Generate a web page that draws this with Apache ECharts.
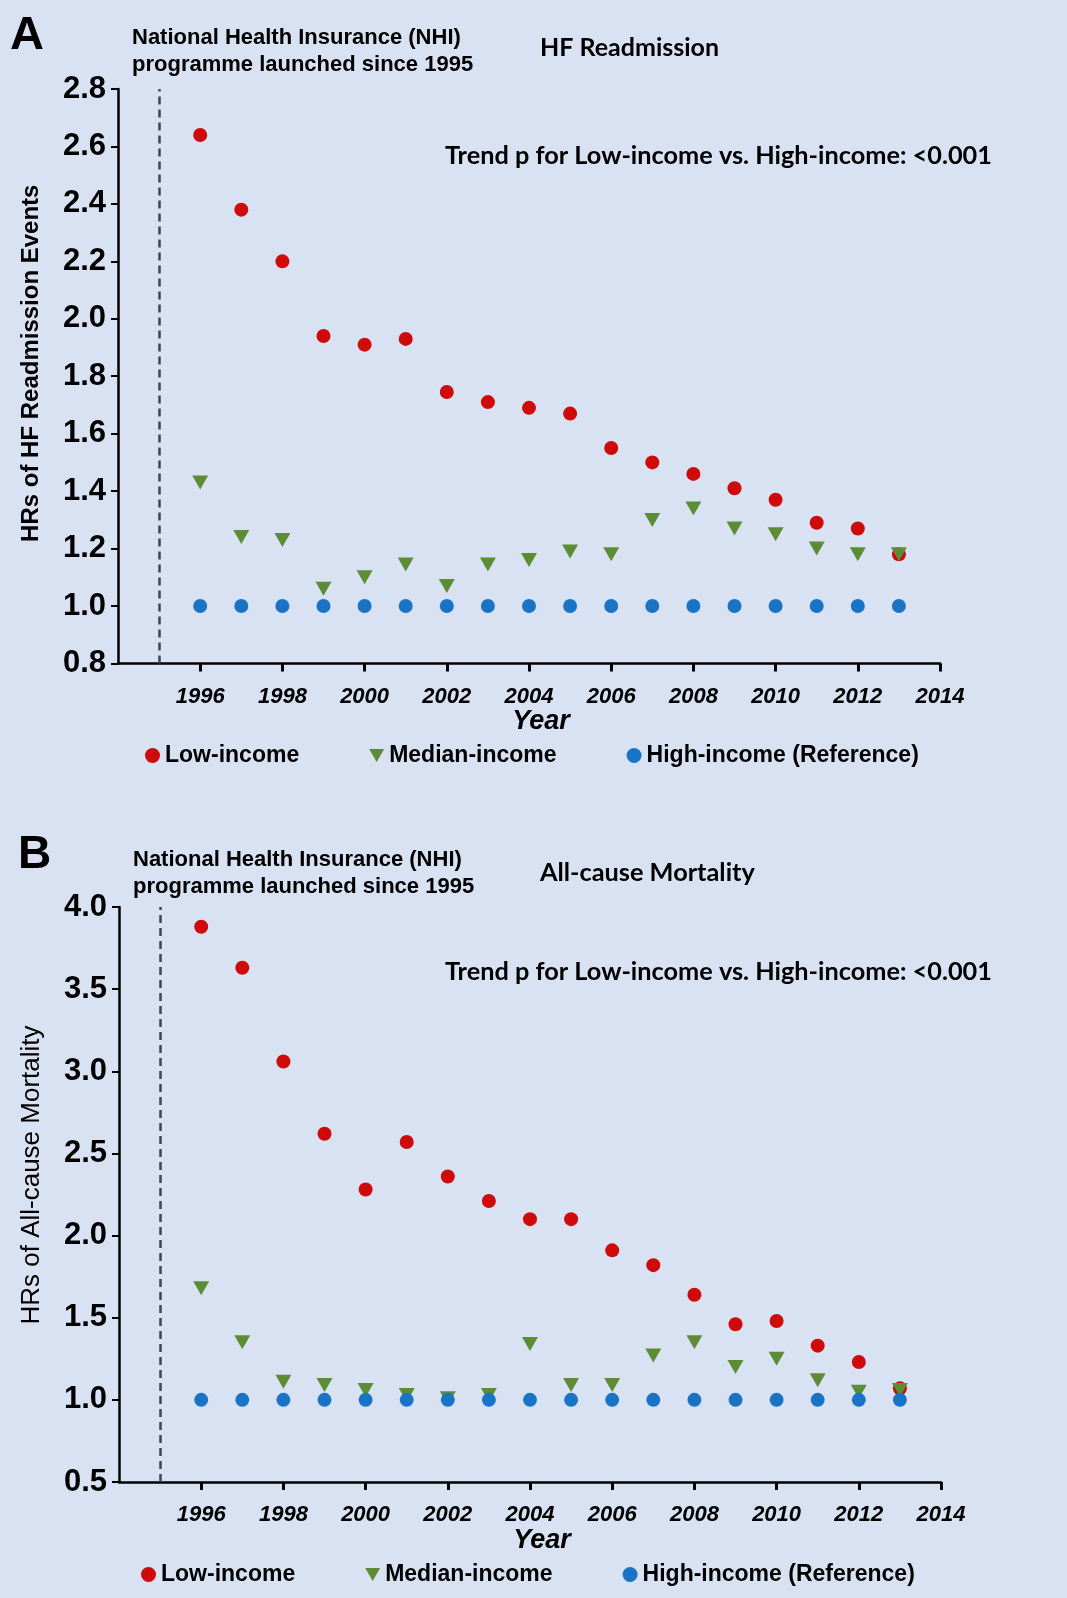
<!DOCTYPE html>
<html>
<head>
<meta charset="utf-8">
<script src="https://cdn.jsdelivr.net/npm/echarts@6/dist/echarts.min.js"></script>
<style>
html,body{margin:0;padding:0;background:#D9E2F2;}
#chart{width:1067px;height:1598px;}
</style>
</head>
<body>
<div id="chart"></div>
<script>
// ---- data ----
const years = [1996,1997,1998,1999,2000,2001,2002,2003,2004,2005,2006,2007,2008,2009,2010,2011,2012,2013];
const hfLow  = [2.64,2.38,2.20,1.94,1.91,1.93,1.745,1.71,1.69,1.67,1.55,1.50,1.46,1.41,1.37,1.29,1.27,1.18];
const hfMed  = [1.43,1.24,1.23,1.06,1.10,1.145,1.07,1.145,1.16,1.19,1.18,1.30,1.34,1.27,1.25,1.20,1.18,1.18];
const hfHigh = [1,1,1,1,1,1,1,1,1,1,1,1,1,1,1,1,1,1];
const mortLow  = [3.88,3.63,3.06,2.62,2.28,2.57,2.36,2.21,2.10,2.10,1.91,1.82,1.64,1.46,1.48,1.33,1.23,1.07];
const mortMed  = [1.68,1.35,1.11,1.09,1.06,1.03,1.01,1.03,1.34,1.09,1.09,1.27,1.35,1.20,1.25,1.12,1.05,1.06];
const mortHigh = [1,1,1,1,1,1,1,1,1,1,1,1,1,1,1,1,1,1];
const nhiYear = 1995;
const seriesNames = ['Low-income','Median-income','High-income (Reference)'];

// ---- styles ----
const FONT = 'Liberation Sans';
const RED = '#CE0A0A', GREEN = '#5C8D35', BLUE = '#1A74C6';
const TRI = 'path://M0,0L10,0L5,8.7Z';

function pairs(vals){ return years.map((y,i)=>[y, vals[i]]); }

function xAxis(gi){
  return {
    type:'value', gridIndex:gi, min:1994, max:2014, interval:2,
    name:'Year', nameLocation:'middle', nameGap:44,
    nameTextStyle:{fontFamily:FONT,fontSize:27,fontWeight:'bold',fontStyle:'italic',color:'#000',padding:[0,0,0,24]},
    axisLine:{show:true,lineStyle:{color:'#000',width:2.5}},
    axisTick:{show:true,length:8,lineStyle:{color:'#000',width:3}},
    axisLabel:{showMinLabel:false,margin:22,fontFamily:FONT,fontSize:22,fontWeight:'bold',fontStyle:'italic',color:'#000',
      formatter:v=>String(v)},
    splitLine:{show:false}
  };
}
function yAxis(gi,min,max,interval,name,weight,size,gap,pad){
  return {
    type:'value', gridIndex:gi, min:min, max:max, interval:interval,
    name:name, nameLocation:'middle', nameGap:gap, nameRotate:90,
    nameTextStyle:{fontFamily:FONT,fontSize:size,fontWeight:weight,color:'#000',padding:[0,0,0,pad]},
    axisLine:{show:true,lineStyle:{color:'#000',width:2.5}},
    axisTick:{show:true,length:7,lineStyle:{color:'#000',width:2}},
    axisLabel:{margin:12,fontFamily:FONT,fontSize:31,fontWeight:'bold',color:'#000',padding:[7,0,0,0],
      formatter:v=>v.toFixed(1)},
    splitLine:{show:false}
  };
}
function scatter(gi,name,vals,color,symbol,size,withLine){
  const s = {
    type:'scatter', name:name, xAxisIndex:gi, yAxisIndex:gi,
    data:pairs(vals), symbol:symbol, symbolSize:size,
    itemStyle:{color:color,opacity:1}, silent:true
  };
  if(withLine){
    s.markLine = {silent:true,symbol:'none',label:{show:false},
      lineStyle:{color:'#3A4757',width:2.5,type:[8,5]},
      data:[{xAxis:nhiYear}]};
  }
  return s;
}
function legend(left,top){
  return {
    left:left, top:top, itemGap:70, itemWidth:15, itemHeight:15,
    textStyle:{fontFamily:FONT,fontSize:23,fontWeight:'bold',color:'#000'},
    data:[{name:seriesNames[0],icon:'circle'},{name:seriesNames[1],icon:TRI},{name:seriesNames[2],icon:'circle'}],
    selectedMode:false
  };
}
function txt(x,y,text,size,weight,family){
  return {type:'text',x:x,y:y,style:{text:text,fontSize:size,fontWeight:weight,fontFamily:family||FONT,
    fill:'#000',textAlign:'left',textVerticalAlign:'middle'}};
}

const chart = echarts.init(document.getElementById('chart'),null,{renderer:'canvas'});
chart.setOption({
  backgroundColor:'#D9E2F2',
  animation:false,
  grid:[
    {left:118,top:89,width:822,height:574.5},
    {left:119,top:907,width:822,height:575}
  ],
  xAxis:[xAxis(0),xAxis(1)],
  yAxis:[
    yAxis(0,0.8,2.8,0.2,'HRs of HF Readmission Events','bold',24,75,26),
    yAxis(1,0.5,4.0,0.5,'HRs of All-cause Mortality','normal',26,74,39)
  ],
  legend:[legend(140,739),legend(136,1558)],
  series:[
    scatter(0,seriesNames[0],hfLow,RED,'circle',14,true),
    scatter(0,seriesNames[1],hfMed,GREEN,TRI,[16,14],false),
    scatter(0,seriesNames[2],hfHigh,BLUE,'circle',14,false),
    scatter(1,seriesNames[0],mortLow,RED,'circle',14,true),
    scatter(1,seriesNames[1],mortMed,GREEN,TRI,[16,14],false),
    scatter(1,seriesNames[2],mortHigh,BLUE,'circle',14,false)
  ],
  graphic:[
    txt(10,36,'A',47,'bold'),
    txt(18,855,'B',46,'bold'),
    txt(132,38,'National Health Insurance (NHI)',22,'bold'),
    txt(132,65,'programme launched since 1995',22,'bold'),
    txt(133,860,'National Health Insurance (NHI)',22,'bold'),
    txt(133,887,'programme launched since 1995',22,'bold'),
    txt(540,48,'HF Readmission',25,'bold','Lato'),
    txt(540,873,'All-cause Mortality',25.3,'bold','Lato'),
    txt(445,156,'Trend p for Low-income vs. High-income: <0.001',25.3,'bold','Lato'),
    txt(445,972,'Trend p for Low-income vs. High-income: <0.001',25.3,'bold','Lato')
  ]
});
</script>
</body>
</html>
